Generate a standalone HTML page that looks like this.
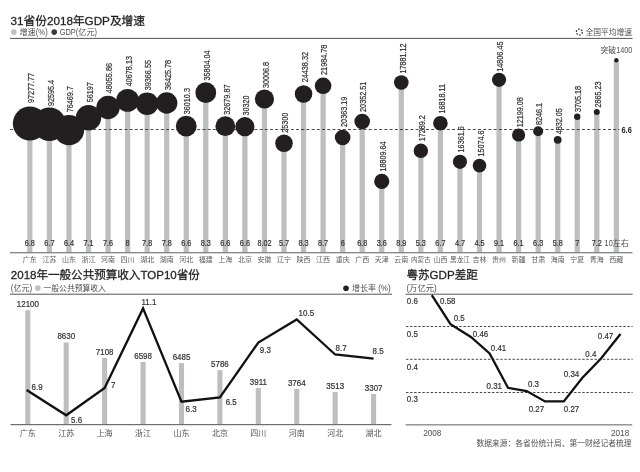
<!DOCTYPE html>
<html lang="zh"><head><meta charset="utf-8"><title>31省份2018年GDP及增速</title>
<style>html,body{margin:0;padding:0;background:#fff}body{width:640px;height:472px;overflow:hidden}svg{display:block}text{font-family:"Liberation Sans", "Noto Sans CJK SC", sans-serif}</style></head><body>
<svg width="640" height="472" viewBox="0 0 640 472">
<rect width="640" height="472" fill="#fff"/>
<text x="10.5" y="24.6" font-size="11.7" fill="#231f20" stroke="#231f20" stroke-width="0.28">31省份2018年GDP及增速</text>
<circle cx="13.8" cy="32.1" r="2.8" fill="#bcbec0"/>
<text x="19.40" y="35.10" font-size="8.2" fill="#505052" font-weight="400">增速</text><text xml:space="preserve" transform="translate(35.80,35.10) scale(0.9,1)" font-size="8.6" fill="#505052">(%)</text>
<circle cx="54.2" cy="32.1" r="2.8" fill="#3a3a3c"/>
<text xml:space="preserve" transform="translate(59.70,35.10) scale(0.86,1)" font-size="8.6" fill="#505052">GDP(</text><text x="78.19" y="35.10" font-size="8.2" fill="#505052" font-weight="400">亿元</text><text xml:space="preserve" transform="translate(94.59,35.10) scale(0.86,1)" font-size="8.6" fill="#505052">)</text>
<circle cx="579.3" cy="32.1" r="3" fill="none" stroke="#231f20" stroke-width="1.2" stroke-dasharray="1.6 1.55"/>
<text x="585.4" y="35.1" font-size="7.8" fill="#505052">全国平均增速</text>
<rect x="10" y="37.9" width="622.5" height="1" fill="#555"/>
<rect x="27.25" y="123.50" width="5.2" height="129.00" fill="#bcbec0"/>
<rect x="46.80" y="124.20" width="5.2" height="128.30" fill="#bcbec0"/>
<rect x="66.35" y="130.10" width="5.2" height="122.40" fill="#bcbec0"/>
<rect x="85.90" y="117.80" width="5.2" height="134.70" fill="#bcbec0"/>
<rect x="105.45" y="107.50" width="5.2" height="145.00" fill="#bcbec0"/>
<rect x="125.00" y="100.40" width="5.2" height="152.10" fill="#bcbec0"/>
<rect x="144.55" y="103.70" width="5.2" height="148.80" fill="#bcbec0"/>
<rect x="164.10" y="103.00" width="5.2" height="149.50" fill="#bcbec0"/>
<rect x="183.65" y="126.20" width="5.2" height="126.30" fill="#bcbec0"/>
<rect x="203.20" y="92.70" width="5.2" height="159.80" fill="#bcbec0"/>
<rect x="222.75" y="126.20" width="5.2" height="126.30" fill="#bcbec0"/>
<rect x="242.30" y="126.70" width="5.2" height="125.80" fill="#bcbec0"/>
<rect x="261.85" y="99.00" width="5.2" height="153.50" fill="#bcbec0"/>
<rect x="281.40" y="143.20" width="5.2" height="109.30" fill="#bcbec0"/>
<rect x="300.95" y="94.00" width="5.2" height="158.50" fill="#bcbec0"/>
<rect x="320.50" y="85.80" width="5.2" height="166.70" fill="#bcbec0"/>
<rect x="340.05" y="137.50" width="5.2" height="115.00" fill="#bcbec0"/>
<rect x="359.60" y="121.50" width="5.2" height="131.00" fill="#bcbec0"/>
<rect x="379.15" y="181.40" width="5.2" height="71.10" fill="#bcbec0"/>
<rect x="398.70" y="82.50" width="5.2" height="170.00" fill="#bcbec0"/>
<rect x="418.25" y="150.80" width="5.2" height="101.70" fill="#bcbec0"/>
<rect x="437.80" y="123.20" width="5.2" height="129.30" fill="#bcbec0"/>
<rect x="457.35" y="161.80" width="5.2" height="90.70" fill="#bcbec0"/>
<rect x="476.90" y="165.60" width="5.2" height="86.90" fill="#bcbec0"/>
<rect x="496.45" y="79.80" width="5.2" height="172.70" fill="#bcbec0"/>
<rect x="516.00" y="135.00" width="5.2" height="117.50" fill="#bcbec0"/>
<rect x="535.55" y="131.20" width="5.2" height="121.30" fill="#bcbec0"/>
<rect x="555.10" y="139.80" width="5.2" height="112.70" fill="#bcbec0"/>
<rect x="574.65" y="116.70" width="5.2" height="135.80" fill="#bcbec0"/>
<rect x="594.20" y="112.00" width="5.2" height="140.50" fill="#bcbec0"/>
<rect x="613.75" y="60.30" width="5.2" height="192.20" fill="#bcbec0"/>
<rect x="10" y="252.2" width="622.5" height="1.1" fill="#6d6e70"/>
<line x1="10" y1="129.5" x2="619.5" y2="129.5" stroke="#231f20" stroke-width="0.8" stroke-dasharray="3 2.2"/>
<circle cx="29.85" cy="123.50" r="17.00" fill="#231f20"/>
<circle cx="49.40" cy="124.20" r="16.70" fill="#231f20"/>
<circle cx="68.95" cy="130.10" r="15.20" fill="#231f20"/>
<circle cx="88.50" cy="117.80" r="12.70" fill="#231f20"/>
<circle cx="108.05" cy="107.50" r="11.70" fill="#231f20"/>
<circle cx="127.60" cy="100.40" r="11.40" fill="#231f20"/>
<circle cx="147.15" cy="103.70" r="11.30" fill="#231f20"/>
<circle cx="166.70" cy="103.00" r="10.70" fill="#231f20"/>
<circle cx="186.25" cy="126.20" r="10.40" fill="#231f20"/>
<circle cx="205.80" cy="92.70" r="10.40" fill="#231f20"/>
<circle cx="225.35" cy="126.20" r="9.90" fill="#231f20"/>
<circle cx="244.90" cy="126.70" r="9.60" fill="#231f20"/>
<circle cx="264.45" cy="99.00" r="9.60" fill="#231f20"/>
<circle cx="284.00" cy="143.20" r="8.80" fill="#231f20"/>
<circle cx="303.55" cy="94.00" r="8.80" fill="#231f20"/>
<circle cx="323.10" cy="85.80" r="8.30" fill="#231f20"/>
<circle cx="342.65" cy="137.50" r="7.80" fill="#231f20"/>
<circle cx="362.20" cy="121.50" r="7.80" fill="#231f20"/>
<circle cx="381.75" cy="181.40" r="7.60" fill="#231f20"/>
<circle cx="401.30" cy="82.50" r="7.30" fill="#231f20"/>
<circle cx="420.85" cy="150.80" r="7.20" fill="#231f20"/>
<circle cx="440.40" cy="123.20" r="7.30" fill="#231f20"/>
<circle cx="459.95" cy="161.80" r="7.10" fill="#231f20"/>
<circle cx="479.50" cy="165.60" r="6.80" fill="#231f20"/>
<circle cx="499.05" cy="79.80" r="7.10" fill="#231f20"/>
<circle cx="518.60" cy="135.00" r="6.60" fill="#231f20"/>
<circle cx="538.15" cy="131.20" r="5.00" fill="#231f20"/>
<circle cx="557.70" cy="139.80" r="3.90" fill="#231f20"/>
<circle cx="577.25" cy="116.70" r="3.20" fill="#231f20"/>
<circle cx="596.80" cy="112.00" r="3.00" fill="#231f20"/>
<circle cx="616.35" cy="60.30" r="2.20" fill="#231f20"/>
<text transform="translate(34.05,103.10) rotate(-90) scale(0.785,1)" font-size="9.2" fill="#333335" stroke="#333335" stroke-width="0.22">97277.77</text>
<text transform="translate(53.60,106.00) rotate(-90) scale(0.785,1)" font-size="9.2" fill="#333335" stroke="#333335" stroke-width="0.22">92595.4</text>
<text transform="translate(73.15,112.30) rotate(-90) scale(0.785,1)" font-size="9.2" fill="#333335" stroke="#333335" stroke-width="0.22">76469.7</text>
<text transform="translate(92.70,102.30) rotate(-90) scale(0.785,1)" font-size="9.2" fill="#333335" stroke="#333335" stroke-width="0.22">56197</text>
<text transform="translate(112.25,93.20) rotate(-90) scale(0.785,1)" font-size="9.2" fill="#333335" stroke="#333335" stroke-width="0.22">48055.86</text>
<text transform="translate(131.80,86.20) rotate(-90) scale(0.785,1)" font-size="9.2" fill="#333335" stroke="#333335" stroke-width="0.22">40678.13</text>
<text transform="translate(151.35,90.20) rotate(-90) scale(0.785,1)" font-size="9.2" fill="#333335" stroke="#333335" stroke-width="0.22">39366.55</text>
<text transform="translate(170.90,90.10) rotate(-90) scale(0.785,1)" font-size="9.2" fill="#333335" stroke="#333335" stroke-width="0.22">36425.78</text>
<text transform="translate(190.45,114.20) rotate(-90) scale(0.785,1)" font-size="9.2" fill="#333335" stroke="#333335" stroke-width="0.22">36010.3</text>
<text transform="translate(210.00,80.50) rotate(-90) scale(0.785,1)" font-size="9.2" fill="#333335" stroke="#333335" stroke-width="0.22">35804.04</text>
<text transform="translate(229.55,114.70) rotate(-90) scale(0.785,1)" font-size="9.2" fill="#333335" stroke="#333335" stroke-width="0.22">32679.87</text>
<text transform="translate(249.10,115.50) rotate(-90) scale(0.785,1)" font-size="9.2" fill="#333335" stroke="#333335" stroke-width="0.22">30320</text>
<text transform="translate(268.65,88.00) rotate(-90) scale(0.785,1)" font-size="9.2" fill="#333335" stroke="#333335" stroke-width="0.22">30006.8</text>
<text transform="translate(288.20,132.80) rotate(-90) scale(0.785,1)" font-size="9.2" fill="#333335" stroke="#333335" stroke-width="0.22">25300</text>
<text transform="translate(307.75,82.20) rotate(-90) scale(0.785,1)" font-size="9.2" fill="#333335" stroke="#333335" stroke-width="0.22">24438.32</text>
<text transform="translate(327.30,74.90) rotate(-90) scale(0.785,1)" font-size="9.2" fill="#333335" stroke="#333335" stroke-width="0.22">21984.78</text>
<text transform="translate(346.85,126.90) rotate(-90) scale(0.785,1)" font-size="9.2" fill="#333335" stroke="#333335" stroke-width="0.22">20363.19</text>
<text transform="translate(366.40,111.90) rotate(-90) scale(0.785,1)" font-size="9.2" fill="#333335" stroke="#333335" stroke-width="0.22">20352.51</text>
<text transform="translate(385.95,171.50) rotate(-90) scale(0.785,1)" font-size="9.2" fill="#333335" stroke="#333335" stroke-width="0.22">18809.64</text>
<text transform="translate(405.50,73.60) rotate(-90) scale(0.785,1)" font-size="9.2" fill="#333335" stroke="#333335" stroke-width="0.22">17881.12</text>
<text transform="translate(425.05,141.30) rotate(-90) scale(0.785,1)" font-size="9.2" fill="#333335" stroke="#333335" stroke-width="0.22">17289.2</text>
<text transform="translate(444.60,113.60) rotate(-90) scale(0.785,1)" font-size="9.2" fill="#333335" stroke="#333335" stroke-width="0.22">16818.11</text>
<text transform="translate(464.15,152.40) rotate(-90) scale(0.785,1)" font-size="9.2" fill="#333335" stroke="#333335" stroke-width="0.22">16361.6</text>
<text transform="translate(483.70,156.50) rotate(-90) scale(0.785,1)" font-size="9.2" fill="#333335" stroke="#333335" stroke-width="0.22">15074.6</text>
<text transform="translate(503.25,71.70) rotate(-90) scale(0.785,1)" font-size="9.2" fill="#333335" stroke="#333335" stroke-width="0.22">14806.45</text>
<text transform="translate(522.80,127.30) rotate(-90) scale(0.785,1)" font-size="9.2" fill="#333335" stroke="#333335" stroke-width="0.22">12199.08</text>
<text transform="translate(542.35,125.10) rotate(-90) scale(0.785,1)" font-size="9.2" fill="#333335" stroke="#333335" stroke-width="0.22">8246.1</text>
<text transform="translate(561.90,134.30) rotate(-90) scale(0.785,1)" font-size="9.2" fill="#333335" stroke="#333335" stroke-width="0.22">4832.05</text>
<text transform="translate(581.45,112.10) rotate(-90) scale(0.785,1)" font-size="9.2" fill="#333335" stroke="#333335" stroke-width="0.22">3705.18</text>
<text transform="translate(601.00,107.60) rotate(-90) scale(0.785,1)" font-size="9.2" fill="#333335" stroke="#333335" stroke-width="0.22">2865.23</text>
<text x="600.48" y="52.90" font-size="7.9" fill="#505052" font-weight="400">突破</text><text xml:space="preserve" transform="translate(616.28,52.90) scale(0.735,1)" font-size="9.8" fill="#505052">1400</text>
<text transform="translate(621.5,132.7) scale(0.78,1)" font-size="9.5" font-weight="bold" fill="#231f20">6.6</text>
<text transform="translate(29.85,245.8) scale(0.79,1)" font-size="9.2" text-anchor="middle" fill="#333335" stroke="#333335" stroke-width="0.22">6.8</text>
<text transform="translate(49.40,245.8) scale(0.79,1)" font-size="9.2" text-anchor="middle" fill="#333335" stroke="#333335" stroke-width="0.22">6.7</text>
<text transform="translate(68.95,245.8) scale(0.79,1)" font-size="9.2" text-anchor="middle" fill="#333335" stroke="#333335" stroke-width="0.22">6.4</text>
<text transform="translate(88.50,245.8) scale(0.79,1)" font-size="9.2" text-anchor="middle" fill="#333335" stroke="#333335" stroke-width="0.22">7.1</text>
<text transform="translate(108.05,245.8) scale(0.79,1)" font-size="9.2" text-anchor="middle" fill="#333335" stroke="#333335" stroke-width="0.22">7.6</text>
<text transform="translate(127.60,245.8) scale(0.79,1)" font-size="9.2" text-anchor="middle" fill="#333335" stroke="#333335" stroke-width="0.22">8</text>
<text transform="translate(147.15,245.8) scale(0.79,1)" font-size="9.2" text-anchor="middle" fill="#333335" stroke="#333335" stroke-width="0.22">7.8</text>
<text transform="translate(166.70,245.8) scale(0.79,1)" font-size="9.2" text-anchor="middle" fill="#333335" stroke="#333335" stroke-width="0.22">7.8</text>
<text transform="translate(186.25,245.8) scale(0.79,1)" font-size="9.2" text-anchor="middle" fill="#333335" stroke="#333335" stroke-width="0.22">6.6</text>
<text transform="translate(205.80,245.8) scale(0.79,1)" font-size="9.2" text-anchor="middle" fill="#333335" stroke="#333335" stroke-width="0.22">8.3</text>
<text transform="translate(225.35,245.8) scale(0.79,1)" font-size="9.2" text-anchor="middle" fill="#333335" stroke="#333335" stroke-width="0.22">6.6</text>
<text transform="translate(244.90,245.8) scale(0.79,1)" font-size="9.2" text-anchor="middle" fill="#333335" stroke="#333335" stroke-width="0.22">6.6</text>
<text transform="translate(264.45,245.8) scale(0.79,1)" font-size="9.2" text-anchor="middle" fill="#333335" stroke="#333335" stroke-width="0.22">8.02</text>
<text transform="translate(284.00,245.8) scale(0.79,1)" font-size="9.2" text-anchor="middle" fill="#333335" stroke="#333335" stroke-width="0.22">5.7</text>
<text transform="translate(303.55,245.8) scale(0.79,1)" font-size="9.2" text-anchor="middle" fill="#333335" stroke="#333335" stroke-width="0.22">8.3</text>
<text transform="translate(323.10,245.8) scale(0.79,1)" font-size="9.2" text-anchor="middle" fill="#333335" stroke="#333335" stroke-width="0.22">8.7</text>
<text transform="translate(342.65,245.8) scale(0.79,1)" font-size="9.2" text-anchor="middle" fill="#333335" stroke="#333335" stroke-width="0.22">6</text>
<text transform="translate(362.20,245.8) scale(0.79,1)" font-size="9.2" text-anchor="middle" fill="#333335" stroke="#333335" stroke-width="0.22">6.8</text>
<text transform="translate(381.75,245.8) scale(0.79,1)" font-size="9.2" text-anchor="middle" fill="#333335" stroke="#333335" stroke-width="0.22">3.6</text>
<text transform="translate(401.30,245.8) scale(0.79,1)" font-size="9.2" text-anchor="middle" fill="#333335" stroke="#333335" stroke-width="0.22">8.9</text>
<text transform="translate(420.85,245.8) scale(0.79,1)" font-size="9.2" text-anchor="middle" fill="#333335" stroke="#333335" stroke-width="0.22">5.3</text>
<text transform="translate(440.40,245.8) scale(0.79,1)" font-size="9.2" text-anchor="middle" fill="#333335" stroke="#333335" stroke-width="0.22">6.7</text>
<text transform="translate(459.95,245.8) scale(0.79,1)" font-size="9.2" text-anchor="middle" fill="#333335" stroke="#333335" stroke-width="0.22">4.7</text>
<text transform="translate(479.50,245.8) scale(0.79,1)" font-size="9.2" text-anchor="middle" fill="#333335" stroke="#333335" stroke-width="0.22">4.5</text>
<text transform="translate(499.05,245.8) scale(0.79,1)" font-size="9.2" text-anchor="middle" fill="#333335" stroke="#333335" stroke-width="0.22">9.1</text>
<text transform="translate(518.60,245.8) scale(0.79,1)" font-size="9.2" text-anchor="middle" fill="#333335" stroke="#333335" stroke-width="0.22">6.1</text>
<text transform="translate(538.15,245.8) scale(0.79,1)" font-size="9.2" text-anchor="middle" fill="#333335" stroke="#333335" stroke-width="0.22">6.3</text>
<text transform="translate(557.70,245.8) scale(0.79,1)" font-size="9.2" text-anchor="middle" fill="#333335" stroke="#333335" stroke-width="0.22">5.8</text>
<text transform="translate(577.25,245.8) scale(0.79,1)" font-size="9.2" text-anchor="middle" fill="#333335" stroke="#333335" stroke-width="0.22">7</text>
<text transform="translate(596.80,245.8) scale(0.79,1)" font-size="9.2" text-anchor="middle" fill="#333335" stroke="#333335" stroke-width="0.22">7.2</text>
<text xml:space="preserve" transform="translate(604.56,245.80) scale(0.8,1)" font-size="9.2" fill="#505052">10</text><text x="612.74" y="245.80" font-size="8.1" fill="#505052" font-weight="400">左右</text>
<text x="29.85" y="262.2" font-size="7" text-anchor="middle" fill="#5c5d5f">广东</text>
<text x="49.40" y="262.2" font-size="7" text-anchor="middle" fill="#5c5d5f">江苏</text>
<text x="68.95" y="262.2" font-size="7" text-anchor="middle" fill="#5c5d5f">山东</text>
<text x="88.50" y="262.2" font-size="7" text-anchor="middle" fill="#5c5d5f">浙江</text>
<text x="108.05" y="262.2" font-size="7" text-anchor="middle" fill="#5c5d5f">河南</text>
<text x="127.60" y="262.2" font-size="7" text-anchor="middle" fill="#5c5d5f">四川</text>
<text x="147.15" y="262.2" font-size="7" text-anchor="middle" fill="#5c5d5f">湖北</text>
<text x="166.70" y="262.2" font-size="7" text-anchor="middle" fill="#5c5d5f">湖南</text>
<text x="186.25" y="262.2" font-size="7" text-anchor="middle" fill="#5c5d5f">河北</text>
<text x="205.80" y="262.2" font-size="7" text-anchor="middle" fill="#5c5d5f">福建</text>
<text x="225.35" y="262.2" font-size="7" text-anchor="middle" fill="#5c5d5f">上海</text>
<text x="244.90" y="262.2" font-size="7" text-anchor="middle" fill="#5c5d5f">北京</text>
<text x="264.45" y="262.2" font-size="7" text-anchor="middle" fill="#5c5d5f">安徽</text>
<text x="284.00" y="262.2" font-size="7" text-anchor="middle" fill="#5c5d5f">辽宁</text>
<text x="303.55" y="262.2" font-size="7" text-anchor="middle" fill="#5c5d5f">陕西</text>
<text x="323.10" y="262.2" font-size="7" text-anchor="middle" fill="#5c5d5f">江西</text>
<text x="342.65" y="262.2" font-size="7" text-anchor="middle" fill="#5c5d5f">重庆</text>
<text x="362.20" y="262.2" font-size="7" text-anchor="middle" fill="#5c5d5f">广西</text>
<text x="381.75" y="262.2" font-size="7" text-anchor="middle" fill="#5c5d5f">天津</text>
<text x="401.30" y="262.2" font-size="7" text-anchor="middle" fill="#5c5d5f">云南</text>
<text x="420.85" y="262.2" font-size="6.55" text-anchor="middle" fill="#5c5d5f">内蒙古</text>
<text x="440.40" y="262.2" font-size="7" text-anchor="middle" fill="#5c5d5f">山西</text>
<text x="459.95" y="262.2" font-size="6.55" text-anchor="middle" fill="#5c5d5f">黑龙江</text>
<text x="479.50" y="262.2" font-size="7" text-anchor="middle" fill="#5c5d5f">吉林</text>
<text x="499.05" y="262.2" font-size="7" text-anchor="middle" fill="#5c5d5f">贵州</text>
<text x="518.60" y="262.2" font-size="7" text-anchor="middle" fill="#5c5d5f">新疆</text>
<text x="538.15" y="262.2" font-size="7" text-anchor="middle" fill="#5c5d5f">甘肃</text>
<text x="557.70" y="262.2" font-size="7" text-anchor="middle" fill="#5c5d5f">海南</text>
<text x="577.25" y="262.2" font-size="7" text-anchor="middle" fill="#5c5d5f">宁夏</text>
<text x="596.80" y="262.2" font-size="7" text-anchor="middle" fill="#5c5d5f">青海</text>
<text x="616.35" y="262.2" font-size="7" text-anchor="middle" fill="#5c5d5f">西藏</text>
<text x="10.8" y="278.9" font-size="11.55" fill="#231f20" stroke="#231f20" stroke-width="0.28">2018年一般公共预算收入TOP10省份</text>
<text xml:space="preserve" transform="translate(10.80,291.10) scale(0.9,1)" font-size="9" fill="#505052">(</text><text x="13.50" y="291.10" font-size="8" fill="#505052" font-weight="400">亿元</text><text xml:space="preserve" transform="translate(29.50,291.10) scale(0.9,1)" font-size="9" fill="#505052">)</text>
<circle cx="37.8" cy="288.1" r="2.8" fill="#bcbec0"/>
<text x="43.5" y="291.1" font-size="7.8" fill="#505052">一般公共预算收入</text>
<circle cx="346" cy="288.2" r="2.8" fill="#231f20"/>
<text x="351.90" y="291.10" font-size="8" fill="#505052" font-weight="400">增长率</text><text xml:space="preserve" transform="translate(375.90,291.10) scale(0.9,1)" font-size="9" fill="#505052"> (%)</text>
<rect x="10" y="293.7" width="382" height="1" fill="#555"/>
<rect x="25.25" y="310.20" width="5.1" height="114.30" fill="#bcbec0"/>
<text transform="translate(27.85,307.00) scale(0.865,1)" font-size="9.2" text-anchor="middle" fill="#333335" stroke="#333335" stroke-width="0.22">12100</text>
<text x="27.80" y="436" font-size="8" text-anchor="middle" fill="#505052">广东</text>
<rect x="63.67" y="342.50" width="5.1" height="82.00" fill="#bcbec0"/>
<text transform="translate(66.27,339.30) scale(0.865,1)" font-size="9.2" text-anchor="middle" fill="#333335" stroke="#333335" stroke-width="0.22">8630</text>
<text x="66.22" y="436" font-size="8" text-anchor="middle" fill="#505052">江苏</text>
<rect x="102.09" y="357.80" width="5.1" height="66.70" fill="#bcbec0"/>
<text transform="translate(104.69,354.60) scale(0.865,1)" font-size="9.2" text-anchor="middle" fill="#333335" stroke="#333335" stroke-width="0.22">7108</text>
<text x="104.64" y="436" font-size="8" text-anchor="middle" fill="#505052">上海</text>
<rect x="140.51" y="362.00" width="5.1" height="62.50" fill="#bcbec0"/>
<text transform="translate(143.11,358.80) scale(0.865,1)" font-size="9.2" text-anchor="middle" fill="#333335" stroke="#333335" stroke-width="0.22">6598</text>
<text x="143.06" y="436" font-size="8" text-anchor="middle" fill="#505052">浙江</text>
<rect x="178.93" y="363.00" width="5.1" height="61.50" fill="#bcbec0"/>
<text transform="translate(181.53,359.80) scale(0.865,1)" font-size="9.2" text-anchor="middle" fill="#333335" stroke="#333335" stroke-width="0.22">6485</text>
<text x="181.48" y="436" font-size="8" text-anchor="middle" fill="#505052">山东</text>
<rect x="217.35" y="370.20" width="5.1" height="54.30" fill="#bcbec0"/>
<text transform="translate(219.95,367.00) scale(0.865,1)" font-size="9.2" text-anchor="middle" fill="#333335" stroke="#333335" stroke-width="0.22">5786</text>
<text x="219.90" y="436" font-size="8" text-anchor="middle" fill="#505052">北京</text>
<rect x="255.77" y="388.00" width="5.1" height="36.50" fill="#bcbec0"/>
<text transform="translate(258.37,384.80) scale(0.865,1)" font-size="9.2" text-anchor="middle" fill="#333335" stroke="#333335" stroke-width="0.22">3911</text>
<text x="258.32" y="436" font-size="8" text-anchor="middle" fill="#505052">四川</text>
<rect x="294.19" y="389.00" width="5.1" height="35.50" fill="#bcbec0"/>
<text transform="translate(296.79,385.80) scale(0.865,1)" font-size="9.2" text-anchor="middle" fill="#333335" stroke="#333335" stroke-width="0.22">3764</text>
<text x="296.74" y="436" font-size="8" text-anchor="middle" fill="#505052">河南</text>
<rect x="332.61" y="392.00" width="5.1" height="32.50" fill="#bcbec0"/>
<text transform="translate(335.21,388.80) scale(0.865,1)" font-size="9.2" text-anchor="middle" fill="#333335" stroke="#333335" stroke-width="0.22">3513</text>
<text x="335.16" y="436" font-size="8" text-anchor="middle" fill="#505052">河北</text>
<rect x="371.03" y="394.00" width="5.1" height="30.50" fill="#bcbec0"/>
<text transform="translate(373.63,390.80) scale(0.865,1)" font-size="9.2" text-anchor="middle" fill="#333335" stroke="#333335" stroke-width="0.22">3307</text>
<text x="373.58" y="436" font-size="8" text-anchor="middle" fill="#505052">湖北</text>
<rect x="10.5" y="424" width="381" height="1.2" fill="#6d6e70"/>
<polyline points="26.60,390.00 66.22,415.30 104.64,388.00 143.06,308.40 181.48,401.70 219.90,397.40 258.32,342.50 296.74,319.50 335.16,354.50 373.58,358.70" fill="none" stroke="#111" stroke-width="2.3" stroke-linejoin="miter" stroke-linecap="butt"/>
<text transform="translate(31.50,390.40) scale(0.865,1)" font-size="9.2" fill="#333335" stroke="#333335" stroke-width="0.22">6.9</text>
<text transform="translate(71.00,422.60) scale(0.865,1)" font-size="9.2" fill="#333335" stroke="#333335" stroke-width="0.22">5.6</text>
<text transform="translate(111.00,387.60) scale(0.865,1)" font-size="9.2" fill="#333335" stroke="#333335" stroke-width="0.22">7</text>
<text transform="translate(141.50,304.90) scale(0.865,1)" font-size="9.2" fill="#333335" stroke="#333335" stroke-width="0.22">11.1</text>
<text transform="translate(185.50,411.60) scale(0.865,1)" font-size="9.2" fill="#333335" stroke="#333335" stroke-width="0.22">6.3</text>
<text transform="translate(225.70,404.80) scale(0.865,1)" font-size="9.2" fill="#333335" stroke="#333335" stroke-width="0.22">6.5</text>
<text transform="translate(259.80,353.30) scale(0.865,1)" font-size="9.2" fill="#333335" stroke="#333335" stroke-width="0.22">9.3</text>
<text transform="translate(298.60,316.20) scale(0.865,1)" font-size="9.2" fill="#333335" stroke="#333335" stroke-width="0.22">10.5</text>
<text transform="translate(335.60,350.60) scale(0.865,1)" font-size="9.2" fill="#333335" stroke="#333335" stroke-width="0.22">8.7</text>
<text transform="translate(372.50,353.90) scale(0.865,1)" font-size="9.2" fill="#333335" stroke="#333335" stroke-width="0.22">8.5</text>
<text x="406.4" y="278.9" font-size="11.6" fill="#231f20" stroke="#231f20" stroke-width="0.28">粤苏GDP差距</text>
<text xml:space="preserve" transform="translate(406.40,291.10) scale(0.9,1)" font-size="9" fill="#505052">(</text><text x="409.10" y="291.10" font-size="8.3" fill="#505052" font-weight="400">万亿元</text><text xml:space="preserve" transform="translate(434.00,291.10) scale(0.9,1)" font-size="9" fill="#505052">)</text>
<rect x="405.6" y="293.7" width="227" height="1" fill="#555"/>
<line x1="406" y1="326.5" x2="632.6" y2="326.5" stroke="#333" stroke-width="0.9" stroke-dasharray="2.4 1.7"/>
<line x1="406" y1="359.3" x2="632.6" y2="359.3" stroke="#333" stroke-width="0.9" stroke-dasharray="2.4 1.7"/>
<line x1="406" y1="392.5" x2="632.6" y2="392.5" stroke="#333" stroke-width="0.9" stroke-dasharray="2.4 1.7"/>
<text transform="translate(406.8,303.60) scale(0.865,1)" font-size="9.2" fill="#333335" stroke="#333335" stroke-width="0.22">0.6</text>
<text transform="translate(406.8,336.80) scale(0.865,1)" font-size="9.2" fill="#333335" stroke="#333335" stroke-width="0.22">0.5</text>
<text transform="translate(406.8,369.60) scale(0.865,1)" font-size="9.2" fill="#333335" stroke="#333335" stroke-width="0.22">0.4</text>
<text transform="translate(406.8,402.20) scale(0.865,1)" font-size="9.2" fill="#333335" stroke="#333335" stroke-width="0.22">0.3</text>
<rect x="405.6" y="424.3" width="226.6" height="1.1" fill="#6d6e70"/>
<polyline points="431.8,295.2 450.5,324.1 470.9,337.0 489.6,353.4 508.0,387.8 526.7,391.0 545.0,401.4 563.8,401.4 582.2,378.0 601.0,358.5 620.5,334.0" fill="none" stroke="#111" stroke-width="2.3" stroke-linejoin="miter"/>
<text transform="translate(440.00,303.70) scale(0.865,1)" font-size="9.2" fill="#333335" stroke="#333335" stroke-width="0.22">0.58</text>
<text transform="translate(453.70,321.40) scale(0.865,1)" font-size="9.2" fill="#333335" stroke="#333335" stroke-width="0.22">0.5</text>
<text transform="translate(472.80,336.90) scale(0.865,1)" font-size="9.2" fill="#333335" stroke="#333335" stroke-width="0.22">0.46</text>
<text transform="translate(490.80,351.20) scale(0.865,1)" font-size="9.2" fill="#333335" stroke="#333335" stroke-width="0.22">0.41</text>
<text transform="translate(486.50,388.50) scale(0.865,1)" font-size="9.2" fill="#333335" stroke="#333335" stroke-width="0.22">0.31</text>
<text transform="translate(527.90,387.10) scale(0.865,1)" font-size="9.2" fill="#333335" stroke="#333335" stroke-width="0.22">0.3</text>
<text transform="translate(528.70,411.90) scale(0.865,1)" font-size="9.2" fill="#333335" stroke="#333335" stroke-width="0.22">0.27</text>
<text transform="translate(563.80,411.90) scale(0.865,1)" font-size="9.2" fill="#333335" stroke="#333335" stroke-width="0.22">0.27</text>
<text transform="translate(563.80,376.90) scale(0.865,1)" font-size="9.2" fill="#333335" stroke="#333335" stroke-width="0.22">0.34</text>
<text transform="translate(585.30,356.90) scale(0.865,1)" font-size="9.2" fill="#333335" stroke="#333335" stroke-width="0.22">0.4</text>
<text transform="translate(597.80,338.60) scale(0.865,1)" font-size="9.2" fill="#333335" stroke="#333335" stroke-width="0.22">0.47</text>
<text x="423.2" y="435.5" font-size="8.2" fill="#505052">2008</text>
<text x="629.2" y="435.5" font-size="8.2" text-anchor="end" fill="#505052">2018</text>
<text x="631.5" y="446.4" font-size="7.75" text-anchor="end" fill="#505052">数据来源：各省份统计局、第一财经记者梳理</text>
</svg></body></html>
